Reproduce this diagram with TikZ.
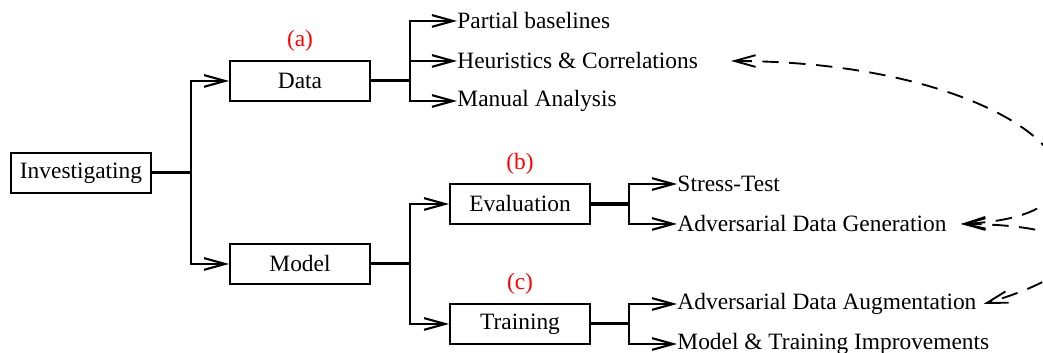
\documentclass[tikz,border=0pt]{standalone}
\usepackage{fontspec}
\setmainfont{Liberation Serif}
\usepackage{tikz}
\usetikzlibrary{arrows.meta, positioning}

\begin{document}
\begin{tikzpicture}[>={Straight Barb[length=9pt,width=5pt]},box node/.style={rectangle,draw,line width=0.9pt,minimum width=2.1cm,minimum height=0.6cm,inner sep=2pt}]
\tikzstyle{leaf} = [anchor=west, inner sep=0pt]
\tikzstyle{tag} = [text=red]
\tikzstyle{branch} = [line width=0.9pt]
\tikzstyle{stub} = [line width=1.3pt]
\tikzstyle{feedback} = [<->, line width=0.8pt, dash pattern=on 7pt off 4.5pt]

\useasboundingbox (0,0) rectangle (15.666,5.302);

\node[box node] (inv) at (1.217,2.704) {Investigating};
\node[box node] (data) at (4.506,4.086) {Data};
\node[box node] (model) at (4.506,1.337) {Model};
\node[box node] (eval) at (7.811,2.238) {Evaluation};
\node[box node] (train) at (7.811,0.436) {Training};

\node[tag, above=0pt of data] (taga) {(a)};
\node[tag, above=0pt of eval] (tagb) {(b)};
\node[tag, above=0pt of train] (tagc) {(c)};

\node[leaf] (partial) at (6.864,4.987) {Partial baselines};
\node[leaf] (heur) at (6.864,4.386) {Heuristics \& Correlations};
\node[leaf] (manual) at (6.864,3.785) {Manual Analysis};
\node[leaf] (stress) at (10.169,2.538) {Stress-Test};
\node[leaf] (gen) at (10.169,1.938) {Adversarial Data Generation};
\node[leaf] (aug) at (10.169,0.736) {Adversarial Data Augmentation};
\node[leaf] (impr) at (10.169,0.135) {Model \& Training Improvements};

\coordinate (jinv) at ([xshift=0.585cm]inv.east);
\coordinate (jdata) at ([xshift=0.585cm]data.east);
\coordinate (jmodel) at ([xshift=0.585cm]model.east);
\coordinate (jeval) at ([xshift=0.57cm]eval.east);
\coordinate (jtrain) at ([xshift=0.57cm]train.east);

\draw[stub] (inv.east) -- (jinv);
\draw[branch,->] (jinv) |- (data);
\draw[branch,->] (jinv) |- (model);

\draw[stub] (data.east) -- (jdata);
\draw[branch,->] (jdata) |- (partial);
\draw[branch,->] (jdata) |- (heur);
\draw[branch,->] (jdata) |- (manual);

\draw[stub] (model.east) -- (jmodel);
\draw[branch,->] (jmodel) |- (eval);
\draw[branch,->] (jmodel) |- (train);

\draw[stub] (eval.east) -- (jeval);
\draw[branch,->] (jeval) |- (stress);
\draw[branch,->] (jeval) |- (gen);

\draw[stub] (train.east) -- (jtrain);
\draw[branch,->] (jtrain) |- (aug);
\draw[branch,->] (jtrain) |- (impr);

\draw[feedback] ([xshift=0.49cm]heur.east) .. controls (15.62,4.371) and (17.42,2.073) .. ([xshift=0.21cm]gen.east);
\draw[feedback] ([xshift=0.21cm]gen.east) .. controls (16.67,1.923) and (16.52,1.247) .. ([xshift=0.1cm]aug.east);

\end{tikzpicture}
\end{document}
